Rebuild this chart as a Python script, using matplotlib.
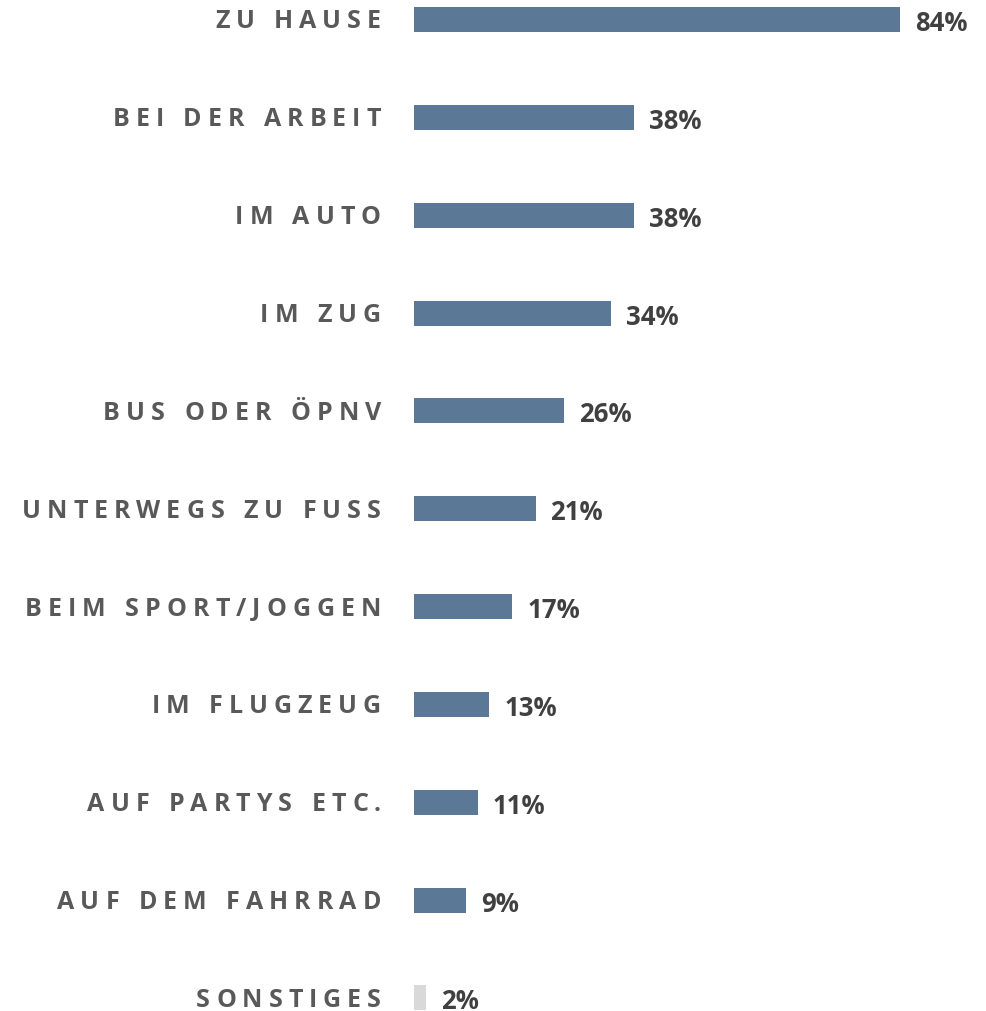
import matplotlib
matplotlib.use("Agg")
import matplotlib.pyplot as plt
from matplotlib.font_manager import FontProperties
from matplotlib.transforms import IdentityTransform

# ---- data ----
categories = ["ZU HAUSE", "BEI DER ARBEIT", "IM AUTO", "IM ZUG", "BUS ODER ÖPNV",
              "UNTERWEGS ZU FUSS", "BEIM SPORT/JOGGEN", "IM FLUGZEUG",
              "AUF PARTYS ETC.", "AUF DEM FAHRRAD", "SONSTIGES"]
values = [84, 38, 38, 34, 26, 21, 17, 13, 11, 9, 2]
value_labels = [f"{v}%" for v in values]
is_other = [False] * 10 + [True]

# ---- style ----
W, H, DPI = 986, 1011, 100
BAR_LEFT_PX = 414
PX_PER_UNIT = (900 - 414) / 84
ROW_PX = 97.85
TOP_CENTER_PX = 19.5
BAR_H_PX = 25
BAR_COLOR = "#5b7896"
OTHER_COLOR = "#d9d9d9"
LABEL_COLOR = "#595959"
VALUE_COLOR = "#404040"
LABEL_RIGHT_PX = 381
LETTER_GAP = 6.0
WORD_GAP = 19.5

fig = plt.figure(figsize=(W / DPI, H / DPI), dpi=DPI)
ax = fig.add_axes([BAR_LEFT_PX / W, 0, 1 - BAR_LEFT_PX / W, 1])
n = len(categories)
ax.set_xlim(0, (W - BAR_LEFT_PX) / PX_PER_UNIT)
ax.set_ylim((n - 1) + (H - TOP_CENTER_PX - (n - 1) * ROW_PX) / ROW_PX, -TOP_CENTER_PX / ROW_PX)
ax.axis("off")

colors = [OTHER_COLOR if o else BAR_COLOR for o in is_other]
ax.barh(range(n), values, height=BAR_H_PX / ROW_PX, color=colors, linewidth=0)

fp_label = FontProperties(family=["Open Sans", "DejaVu Sans"], weight="bold", size=18.0)
fp_value = FontProperties(family=["Open Sans", "DejaVu Sans"], weight="bold", size=18.5)

fig.canvas.draw()
renderer = fig.canvas.get_renderer()


def ink_w(ch, fp):
    w, h, d = renderer.get_text_width_height_descent(ch, fp, ismath=False)
    return w


cap_h = renderer.get_text_width_height_descent("H", fp_label, ismath=False)[1]
cap_hv = renderer.get_text_width_height_descent("8", fp_value, ismath=False)[1]

ident = IdentityTransform()
for i, (lab, v, vl) in enumerate(zip(categories, values, value_labels)):
    yc = ax.transData.transform((0, i))[1]
    # letter-spaced category label, right aligned
    pos = []
    x = 0.0
    gap_next = 0.0
    for ch in lab:
        if ch == " ":
            gap_next = WORD_GAP
            continue
        x += gap_next
        pos.append((x, ch))
        x += ink_w(ch, fp_label)
        gap_next = LETTER_GAP
    shift = LABEL_RIGHT_PX - x
    for px, ch in pos:
        fig.text(px + shift, yc - cap_h / 2, ch, transform=ident, fontproperties=fp_label,
                 color=LABEL_COLOR, ha="left", va="baseline")
    # value label
    xv = ax.transData.transform((v, i))[0] + 15
    fig.text(xv, yc - cap_hv / 2 - 2, vl, transform=ident, fontproperties=fp_value,
             color=VALUE_COLOR, ha="left", va="baseline")

fig.savefig("out.png", dpi=DPI)
